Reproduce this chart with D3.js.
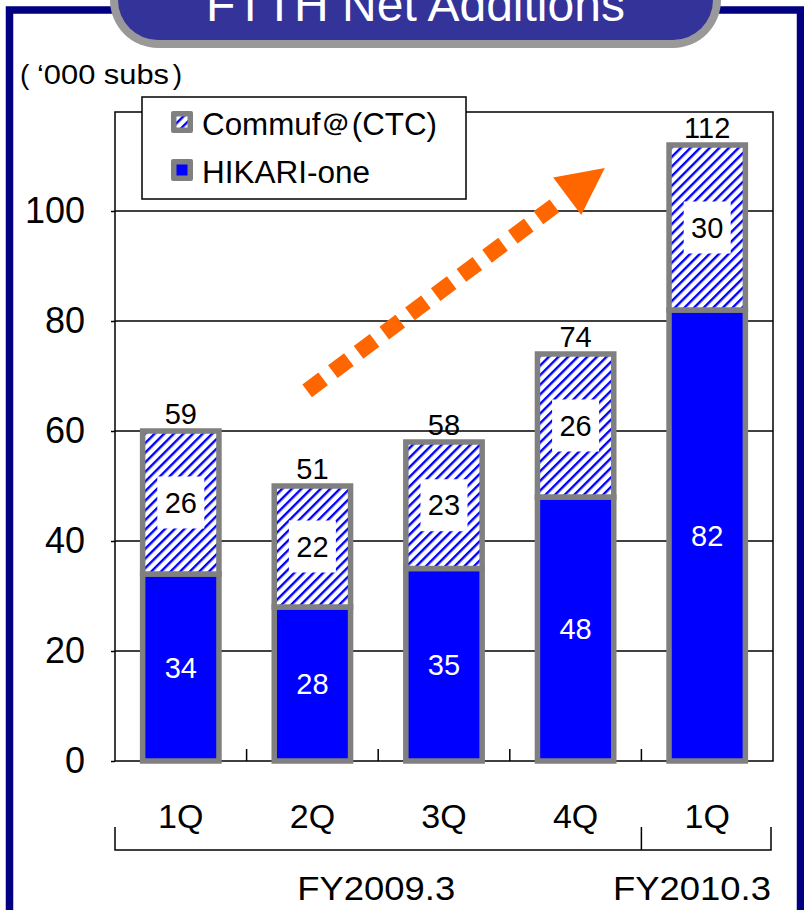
<!DOCTYPE html>
<html><head><meta charset="utf-8">
<script src="https://cdn.jsdelivr.net/npm/d3@7"></script>
<style>html,body{margin:0;padding:0;background:#fff;}svg{display:block;}</style>
</head><body>
<script>
// ---- data ----
const periods = ["FY09-1Q","FY09-2Q","FY09-3Q","FY09-4Q","FY10-1Q"];
const quarterLabels = ["1Q","2Q","3Q","4Q","1Q"];
const hikariOne = [34, 28, 35, 48, 82];
const commuf = [26, 22, 23, 26, 30];
const totalLabels = [59, 51, 58, 74, 112];
const yTicks = [0, 20, 40, 60, 80, 100];
const fiscalYears = [{label:"FY2009.3", from:0, to:4}, {label:"FY2010.3", from:4, to:5}];
const seriesNames = ["Commuf\uFF20(CTC)", "HIKARI-one"];

const W = 804, H = 910;
const FONT = "'Liberation Sans', Arial, Helvetica, sans-serif";
const plot = {left:115, right:773, top:112, bottom:761};

const svg = d3.select("body").append("svg").attr("width", W).attr("height", H)
  .style("font-family", FONT);

const defs = svg.append("defs");
const P = 6.8;
const pat = defs.append("pattern").attr("id","stripe").attr("patternUnits","userSpaceOnUse")
  .attr("width", P).attr("height", P).attr("patternTransform","rotate(45)");
pat.append("rect").attr("width",P).attr("height",P).attr("fill","#fff");
pat.append("rect").attr("x",0).attr("width",2.4).attr("height",P).attr("fill","#0000FF");

// outer navy frame
svg.append("rect").attr("x",9.5).attr("y",10).attr("width",791).attr("height",960)
  .attr("fill","#fff").attr("stroke","#000080").attr("stroke-width",7.5);

// title tab
svg.append("rect").attr("x",110).attr("y",-70).attr("width",611).attr("height",118).attr("rx",48)
  .attr("fill","#999999");
svg.append("rect").attr("x",118).attr("y",-70).attr("width",595).attr("height",110).attr("rx",40)
  .attr("fill","#333399");
svg.append("text").attr("x",415.5).attr("y",21).attr("text-anchor","middle")
  .attr("font-size",48).attr("fill","#fff").text("FTTH Net Additions");

// unit label
const unit = svg.append("g").attr("font-size",28).attr("fill","#000");
unit.append("text").attr("x",20).attr("y",84).text("(");
unit.append("text").attr("x",37).attr("y",84).attr("textLength",132).attr("lengthAdjust","spacingAndGlyphs").text("\u2018000 subs");
unit.append("text").attr("x",182).attr("y",84).attr("text-anchor","end").text(")");

// scales
const x = d3.scaleBand().domain(periods).range([plot.left, plot.right])
  .paddingInner(0.42).paddingOuter(0.21);
const step = x.step();
const y = d3.scaleLinear().domain([0, 118]).range([plot.bottom, plot.top]);

// gridlines
svg.append("g").selectAll("line").data(yTicks.filter(d=>d>0)).join("line")
  .attr("x1",plot.left).attr("x2",plot.right).attr("y1",d=>y(d)).attr("y2",d=>y(d))
  .attr("stroke","#000").attr("stroke-width",1.5);

// y axis labels + small outward ticks
const yAxis = d3.axisLeft(y).tickValues(yTicks).tickSize(4).tickPadding(26).tickFormat(d3.format("d"));
const gy = svg.append("g").attr("transform",`translate(${plot.left},0)`).call(yAxis);
gy.select(".domain").remove();
gy.selectAll(".tick line").attr("stroke","#000").attr("stroke-width",1.5);
gy.selectAll(".tick text").attr("font-size",36).attr("font-family",FONT).attr("fill","#000");

// plot frame
svg.append("rect").attr("x",plot.left).attr("y",plot.top).attr("width",plot.right-plot.left)
  .attr("height",plot.bottom-plot.top).attr("fill","none").attr("stroke","#000").attr("stroke-width",1.5);

// bottom axis ticks (inside, at category boundaries)
svg.append("g").selectAll("line").data(d3.range(1, periods.length)).join("line")
  .attr("x1",i=>plot.left + step*i).attr("x2",i=>plot.left + step*i)
  .attr("y1",plot.bottom).attr("y2",plot.bottom-12).attr("stroke","#000").attr("stroke-width",1.5);

// bars
const bw = x.bandwidth();
const bars = svg.append("g");
const rows = periods.map((p,i)=>({p, i, h:hikariOne[i], c:commuf[i], t:totalLabels[i]}));
bars.selectAll("rect.h").data(rows).join("rect").attr("class","h")
  .attr("x",d=>x(d.p)).attr("width",bw)
  .attr("y",d=>y(d.h)).attr("height",d=>y(0)-y(d.h))
  .attr("fill","#0000FF").attr("stroke","#808080").attr("stroke-width",5.5);
bars.selectAll("rect.c").data(rows).join("rect").attr("class","c")
  .attr("x",d=>x(d.p)).attr("width",bw)
  .attr("y",d=>y(d.h+d.c)).attr("height",d=>y(d.h)-y(d.h+d.c))
  .attr("fill","url(#stripe)").attr("stroke","#808080").attr("stroke-width",5.5);

// labels
bars.selectAll("text.h").data(rows).join("text").attr("class","h")
  .attr("x",d=>x(d.p)+bw/2).attr("y",d=>y(d.h/2)).attr("dy","0.35em")
  .attr("text-anchor","middle").attr("font-size",29).attr("fill","#fff").text(d=>d.h);
bars.selectAll("rect.cbox").data(rows).join("rect").attr("class","cbox")
  .attr("x",d=>x(d.p)+bw/2-23.5).attr("y",d=>y(d.h+d.c/2)-26).attr("width",47).attr("height",52)
  .attr("fill","#fff");
bars.selectAll("text.c").data(rows).join("text").attr("class","c")
  .attr("x",d=>x(d.p)+bw/2).attr("y",d=>y(d.h+d.c/2)).attr("dy","0.35em")
  .attr("text-anchor","middle").attr("font-size",29).attr("fill","#000").text(d=>d.c);
bars.selectAll("text.t").data(rows).join("text").attr("class","t")
  .attr("x",d=>x(d.p)+bw/2).attr("y",d=>y(d.h+d.c)-7)
  .attr("text-anchor","middle").attr("font-size",29).attr("fill","#000").text(d=>d.t);

// category labels
svg.append("g").selectAll("text").data(periods).join("text")
  .attr("x",(p)=>x(p)+bw/2).attr("y",828).attr("text-anchor","middle")
  .attr("font-size",34).attr("fill","#000").text((p,i)=>quarterLabels[i]);

// fiscal-year bracket
const bx = i => plot.left + step*i;
const bracketRight = plot.right - 2;
svg.append("path")
  .attr("d",`M${bx(0)},827V850H${bracketRight}V827M${bx(4)},850V827`)
  .attr("fill","none").attr("stroke","#000").attr("stroke-width",1.5);
svg.append("text").attr("x",(bx(fiscalYears[0].from)+bx(fiscalYears[0].to))/2 - 2).attr("y",900)
  .attr("text-anchor","middle").attr("font-size",34).attr("fill","#000")
  .attr("textLength",158).attr("lengthAdjust","spacingAndGlyphs").text(fiscalYears[0].label);
svg.append("text").attr("x",bracketRight - 158).attr("y",900)
  .attr("text-anchor","start").attr("font-size",34).attr("fill","#000")
  .attr("textLength",158).attr("lengthAdjust","spacingAndGlyphs").text(fiscalYears[1].label);

// legend
const lg = svg.append("g");
lg.append("rect").attr("x",142).attr("y",97).attr("width",324).attr("height",102)
  .attr("fill","#fff").attr("stroke","#000").attr("stroke-width",1.5);
const lgFills = ["url(#stripe)","#0000FF"];
const lgWidths = [235, 168];
seriesNames.forEach((name,k)=>{
  const yy = 111 + k*48;
  lg.append("rect").attr("x",171).attr("y",yy).attr("width",22).attr("height",22).attr("rx",2).attr("fill","#808080");
  lg.append("rect").attr("x",176.5).attr("y",yy+5.5).attr("width",11).attr("height",11).attr("fill",lgFills[k]);
  lg.append("text").attr("x",202).attr("y",yy+24).attr("font-size",31).attr("fill","#000")
    .attr("textLength",lgWidths[k]).attr("lengthAdjust","spacingAndGlyphs").text(name);
});

// trend arrow (annotation)
const tail = [bx(1.46), y(67.3)];
const tip = [bx(3.722), y(107.8)];
const dx = tip[0]-tail[0], dy = tip[1]-tail[1], L = Math.hypot(dx,dy);
const u = [dx/L, dy/L], n = [-u[1], u[0]];
const lineEnd = [tip[0]-u[0]*61, tip[1]-u[1]*61];
svg.append("line").attr("x1",tail[0]).attr("y1",tail[1]).attr("x2",lineEnd[0]).attr("y2",lineEnd[1])
  .attr("stroke","#FF6600").attr("stroke-width",16).attr("stroke-dasharray","20 12.1");
const bm = [tip[0]-u[0]*47, tip[1]-u[1]*47];
svg.append("path").attr("d",`M${tip[0]},${tip[1]}L${bm[0]+n[0]*23.5},${bm[1]+n[1]*23.5}L${bm[0]-n[0]*23.5},${bm[1]-n[1]*23.5}Z`)
  .attr("fill","#FF6600");
</script>
</body></html>
